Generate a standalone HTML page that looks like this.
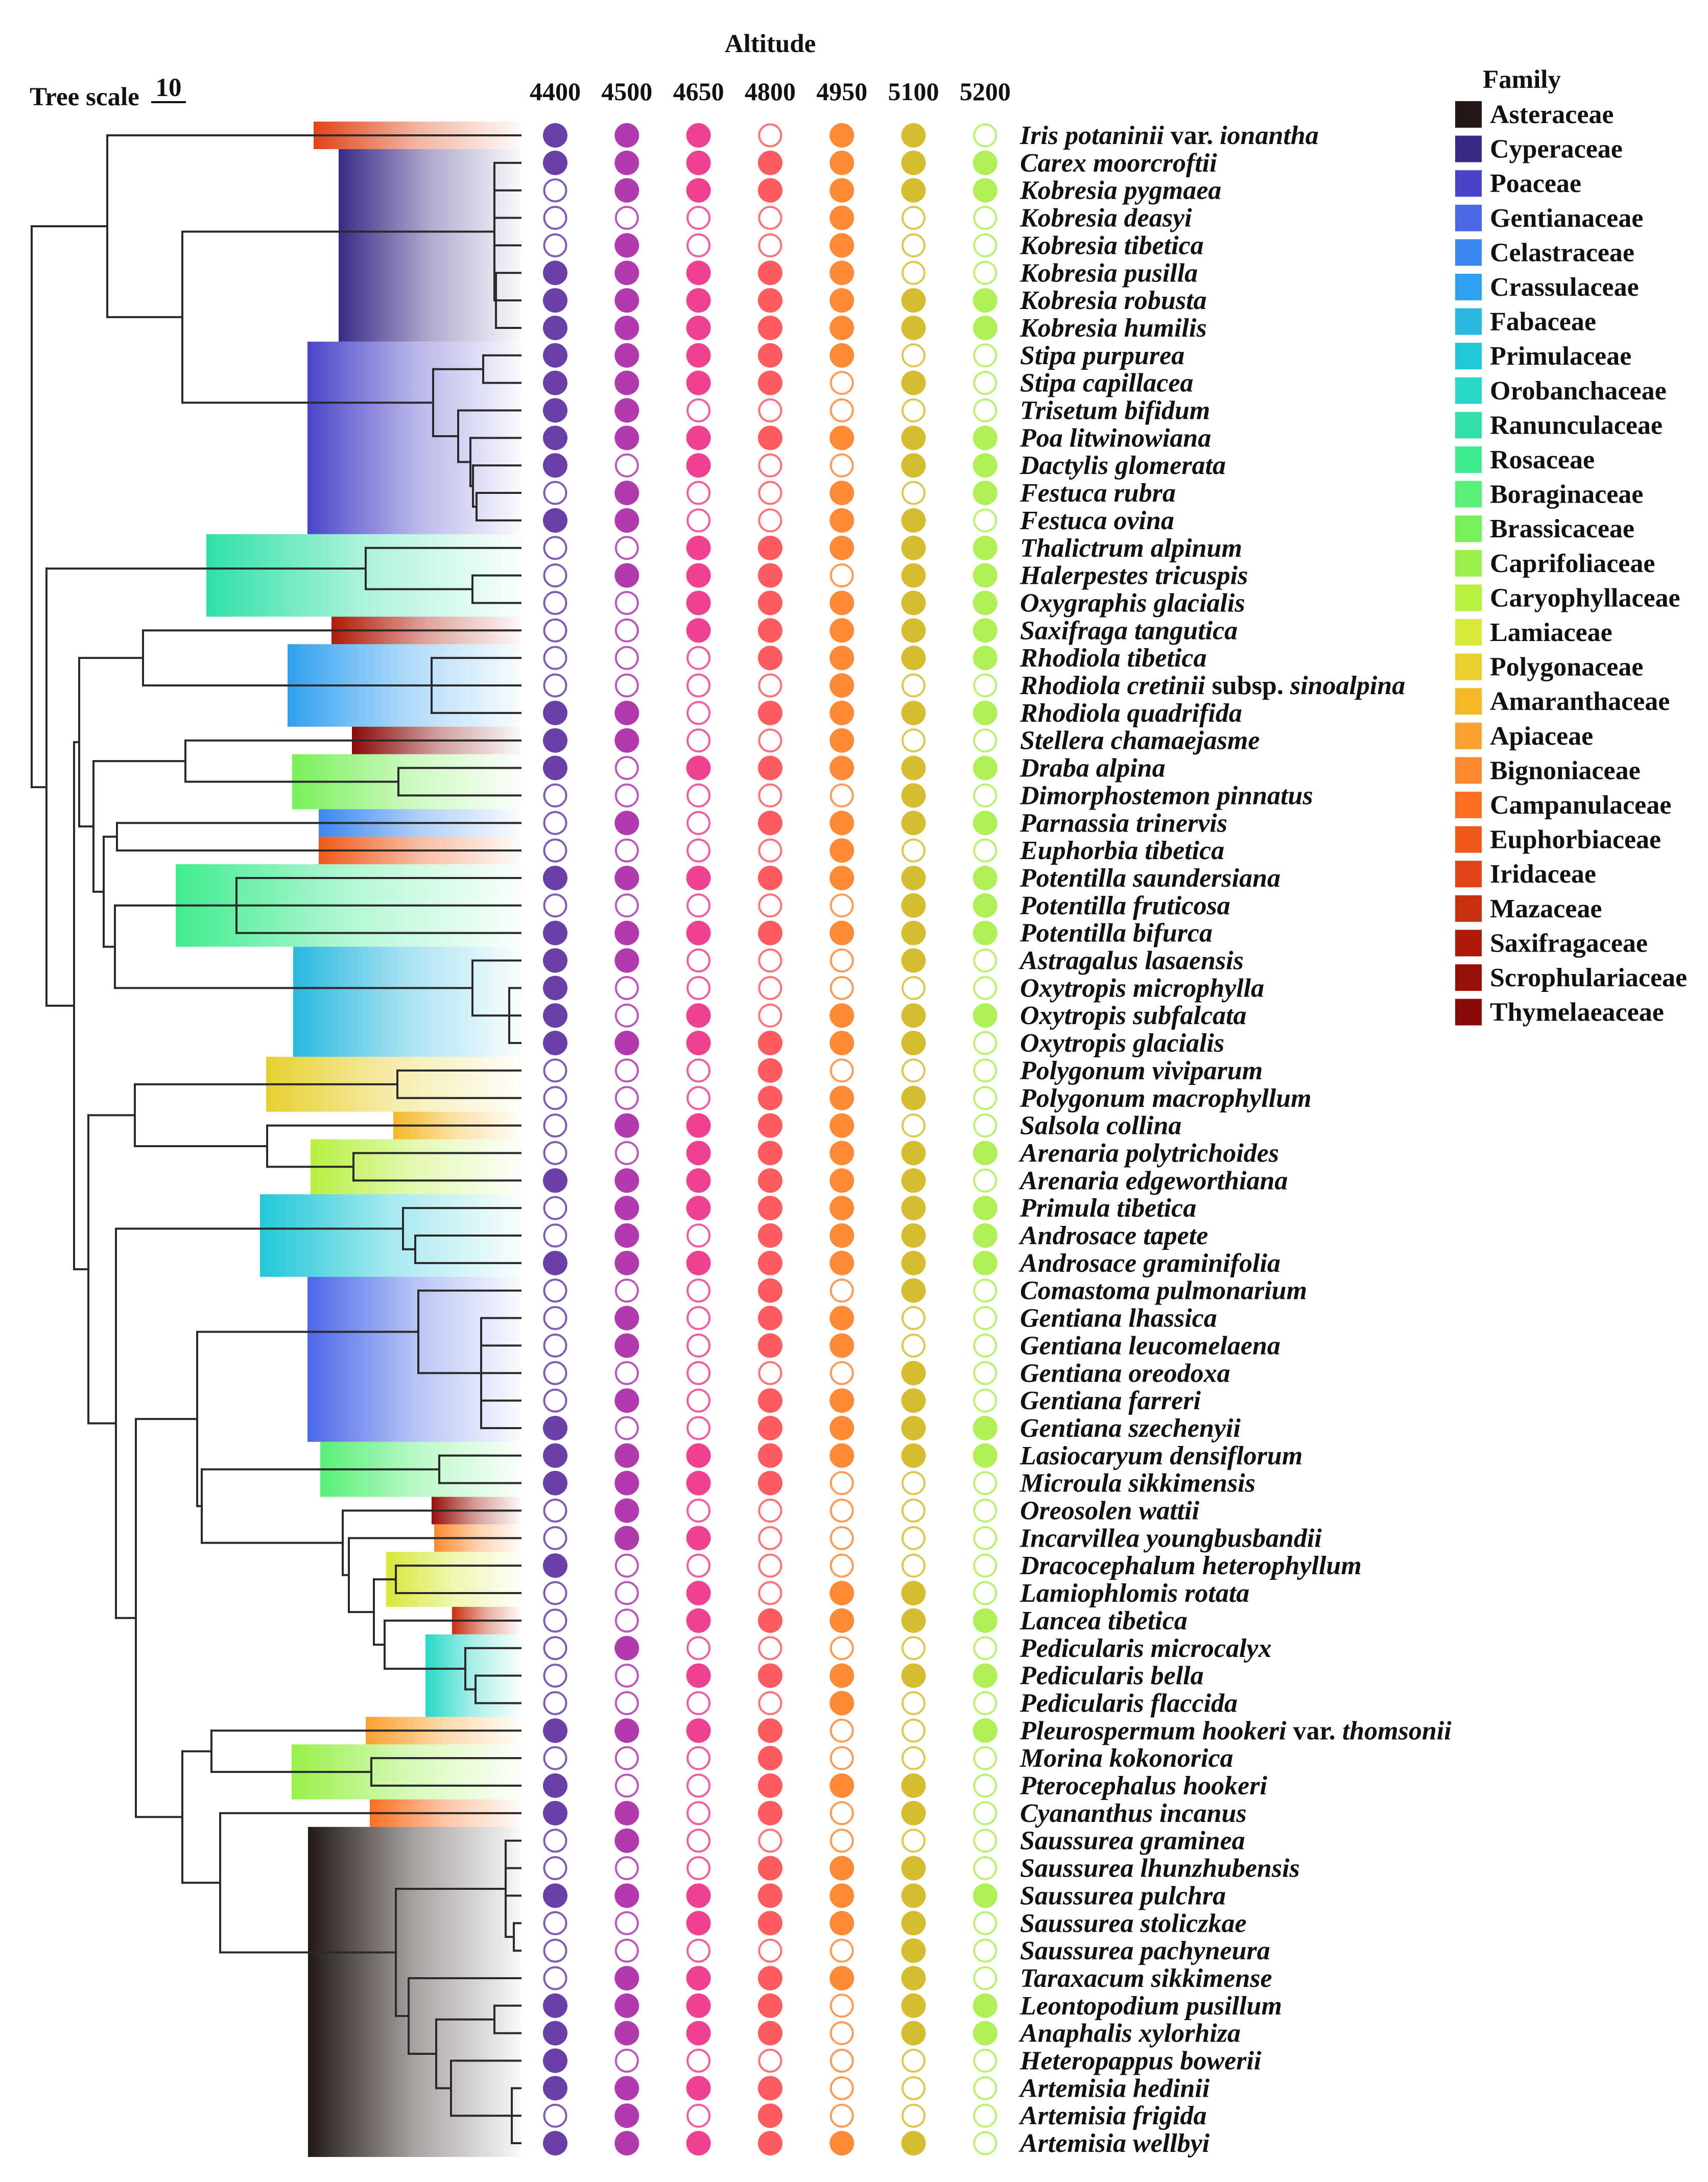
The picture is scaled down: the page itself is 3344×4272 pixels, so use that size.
<!DOCTYPE html>
<html>
<head>
<meta charset="utf-8">
<style>
html,body{margin:0;padding:0;background:#fff;}
svg{display:block;}
text{font-family:"Liberation Serif","Times New Roman",serif;font-weight:bold;fill:#111;}
</style>
</head>
<body>
<svg id="fig" xmlns="http://www.w3.org/2000/svg" width="3344" height="4272" viewBox="0 0 3344 4272">
  <defs id="grads"></defs>
  <g id="clades"></g>
  <g id="tree"></g>
  <g id="dots"></g>
  <g id="labels"></g>
  <g id="legend"></g>
  <text x="1508" y="102" font-size="51" text-anchor="middle">Altitude</text>
  <text x="58" y="206" font-size="51">Tree scale</text>
  <text x="330" y="188" font-size="51" text-anchor="middle">10</text>
  <line x1="296" y1="200" x2="364" y2="200" stroke="#111" stroke-width="4"/>
</svg>
<script>
const altitudes = ["4400","4500","4650","4800","4950","5100","5200"];
const altColors = ["#6a3fa8","#b03aae","#ee4190","#fd5b60","#fe8a38","#d6bd30","#aef056"];
const species = [
"Iris potaninii |var.| ionantha","Carex moorcroftii","Kobresia pygmaea","Kobresia deasyi","Kobresia tibetica","Kobresia pusilla","Kobresia robusta","Kobresia humilis",
"Stipa purpurea","Stipa capillacea","Trisetum bifidum","Poa litwinowiana","Dactylis glomerata","Festuca rubra","Festuca ovina",
"Thalictrum alpinum","Halerpestes tricuspis","Oxygraphis glacialis","Saxifraga tangutica","Rhodiola tibetica","Rhodiola cretinii |subsp.| sinoalpina","Rhodiola quadrifida",
"Stellera chamaejasme","Draba alpina","Dimorphostemon pinnatus","Parnassia trinervis","Euphorbia tibetica","Potentilla saundersiana","Potentilla fruticosa","Potentilla bifurca",
"Astragalus lasaensis","Oxytropis microphylla","Oxytropis subfalcata","Oxytropis glacialis","Polygonum viviparum","Polygonum macrophyllum","Salsola collina",
"Arenaria polytrichoides","Arenaria edgeworthiana","Primula tibetica","Androsace tapete","Androsace graminifolia","Comastoma pulmonarium","Gentiana lhassica",
"Gentiana leucomelaena","Gentiana oreodoxa","Gentiana farreri","Gentiana szechenyii","Lasiocaryum densiflorum","Microula sikkimensis","Oreosolen wattii",
"Incarvillea youngbusbandii","Dracocephalum heterophyllum","Lamiophlomis rotata","Lancea tibetica","Pedicularis microcalyx","Pedicularis bella","Pedicularis flaccida",
"Pleurospermum hookeri |var.| thomsonii","Morina kokonorica","Pterocephalus hookeri","Cyananthus incanus","Saussurea graminea","Saussurea lhunzhubensis",
"Saussurea pulchra","Saussurea stoliczkae","Saussurea pachyneura","Taraxacum sikkimense","Leontopodium pusillum","Anaphalis xylorhiza","Heteropappus bowerii",
"Artemisia hedinii","Artemisia frigida","Artemisia wellbyi"];
const presence = [
"1110110","1111111","0111111","0000100","0100100","1111100","1111111","1111111","1111100","1111010",
"1100000","1111111","1010011","0100101","1100110","0011111","0111011","0011111","0011111","0001111",
"0000100","1101111","1100100","1011111","0000010","0101111","0000100","1111111","0000011","1111111",
"1100010","1000000","1010111","1111110","0001000","0001110","0111100","0011111","1111110","0111111",
"0101111","1111111","0001010","0101100","0101100","0000010","0101110","1001111","1111111","1111000",
"0100000","0110000","1000000","0010110","0011111","0100000","0011111","0000100","1111001","0001000",
"1001110","1101010","0100000","0001110","1111111","0011110","0000010","0111110","1111011","1111011",
"1000000","1111000","0101000","1111110"];
const families = ["Asteraceae","Cyperaceae","Poaceae","Gentianaceae","Celastraceae","Crassulaceae","Fabaceae","Primulaceae","Orobanchaceae","Ranunculaceae","Rosaceae","Boraginaceae","Brassicaceae","Caprifoliaceae","Caryophyllaceae","Lamiaceae","Polygonaceae","Amaranthaceae","Apiaceae","Bignoniaceae","Campanulaceae","Euphorbiaceae","Iridaceae","Mazaceae","Saxifragaceae","Scrophulariaceae","Thymelaeaceae"];
const familyColors = ["#231815","#3b2a85","#4a45c8","#4a68e8","#3a88f0","#30a0f0","#28b8e0","#20c8d8","#28d8c8","#30e0a8","#40ec90","#58f078","#78f058","#98f048","#b8f040","#d8e838","#e8d030","#f5b828","#fca030","#fd8a30","#fb7020","#f05a18","#e04418","#c83010","#b01a08","#981008","#8a0a08"];
const cladeFamily = ["Iridaceae","Cyperaceae","Poaceae","Ranunculaceae","Saxifragaceae","Crassulaceae","Thymelaeaceae","Brassicaceae","Celastraceae","Euphorbiaceae","Rosaceae","Fabaceae","Polygonaceae","Amaranthaceae","Caryophyllaceae","Primulaceae","Gentianaceae","Boraginaceae","Scrophulariaceae","Bignoniaceae","Lamiaceae","Mazaceae","Orobanchaceae","Apiaceae","Caprifoliaceae","Campanulaceae","Asteraceae"];
const cladeFirst = [0,1,8,15,18,19,22,23,25,26,27,30,34,36,37,39,42,48,50,51,52,54,55,58,59,61,62];
const cladeLast  = [0,7,14,17,18,21,22,24,25,26,29,33,35,36,38,41,47,49,50,51,53,54,57,58,60,61,73];
const cladeLeft  = [614,663,602,404,649,563,689,572,624,624,344,574,521,770,608,509,602,627,845,850,756,885,833,716,571,724,603];
const tree = [62,
 [210, 0, [357, [968,1,2,3,4,[971,5,6,7]], [848,[946,8,9],[897,10,[921,11,[926,12,[933,13,14]]]]]]],
 [91, [716,15,[925,16,17]],
   [145,
     [155, [280,18,[845,19,20,21]],
           [183, [363,22,[780,23,24]],
                 [203, [229,25,26], [225,[463,27,28,29],[925,30,[997,31,32,33]]]]]],
     [173, [264,[778,34,35],[523,36,[692,37,38]]],
           [227, [789,39,[813,40,41]],
                 [266, [386,[819,42,[942,43,44,45,46,47]], [395,[860,48,49],[671,50,[683,51,[732,[775,52,53],[753,54,[911,55,[931,56,57]]]]]]]],
                       [357,[414,58,[727,59,60]],[431,61,[775,[990,62,63,64,[1006,65,66]],[800,67,[854,[968,68,69],[883,70,[1002,71,72,73]]]]]]]]]]]]
];

const NS = "http://www.w3.org/2000/svg";
const ROW0 = 265, ROWH = 53.85, TIP = 1019, COL0 = 1087, COLSTEP = 140.3, R = 24;
function rowY(i){ return ROW0 + i*ROWH; }
function colX(j){ return COL0 + j*COLSTEP; }
function mk(tag, attrs, parent){ const e=document.createElementNS(NS,tag); for(const k in attrs) e.setAttribute(k,attrs[k]); parent.appendChild(e); return e; }

const defs = document.getElementById('grads');
const gCl = document.getElementById('clades');
cladeFamily.forEach((f,k)=>{
  const col = familyColors[families.indexOf(f)];
  const g = mk('linearGradient',{id:'gr'+k,x1:'0',y1:'0',x2:'1',y2:'0'},defs);
  mk('stop',{offset:'0','stop-color':col,'stop-opacity':'1'},g);
  mk('stop',{offset:'0.5','stop-color':col,'stop-opacity':'0.4'},g);
  mk('stop',{offset:'1','stop-color':col,'stop-opacity':'0.03'},g);
  const y0 = rowY(cladeFirst[k]) - ROWH/2, y1 = rowY(cladeLast[k]) + ROWH/2;
  const r = mk('rect',{x:cladeLeft[k],y:y0,width:TIP-cladeLeft[k],height:y1-y0,fill:'url(#gr'+k+')'},gCl);
  
  
});

const gT = document.getElementById('tree');
function line(x1,y1,x2,y2,name){
  const l = mk('line',{x1,y1,x2,y2,stroke:'#2a2a2a','stroke-width':4,'stroke-linecap':'square'},gT);
  
  
}
function draw(node){
  if(typeof node === 'number') return rowY(node);
  const x = node[0];
  const ys = [];
  for(let c=1;c<node.length;c++){
    const ch = node[c];
    const y = draw(ch);
    const x2 = (typeof ch === 'number') ? TIP : ch[0];
    line(x,y,x2,y,'tree-branch');
    ys.push(y);
  }
  const top = Math.min(...ys), bot = Math.max(...ys);
  line(x,top,x,bot,'tree-node-connector');
  return (top+bot)/2;
}
draw(tree);

const gD = document.getElementById('dots');
altitudes.forEach((a,j)=>{
  const t = mk('text',{x:colX(j),y:196,'font-size':50,'text-anchor':'middle'},gD);
  t.textContent = a;
  
  
});
presence.forEach((row,i)=>{
  for(let j=0;j<altitudes.length;j++){
    const on = row[j]==='1';
    const c = on ? mk('circle',{cx:colX(j),cy:rowY(i),r:R,fill:altColors[j]},gD)
                 : mk('circle',{cx:colX(j),cy:rowY(i),r:R-2.5,fill:'#fff',stroke:altColors[j],'stroke-width':4,'stroke-opacity':0.85},gD);
    
    
  }
});

const gL = document.getElementById('labels');
species.forEach((s,i)=>{
  const t = mk('text',{x:1997,y:rowY(i)+17,'font-size':52},gL);
  
  
  s.split('|').forEach((part,p)=>{
    const ts = mk('tspan',{'font-style': p%2===0 ? 'italic':'normal'},t);
    ts.textContent = part;
  });
});

const gG = document.getElementById('legend');
const lt = mk('text',{x:2903,y:172,'font-size':51},gG);
lt.textContent = 'Family';


families.forEach((f,k)=>{
  const y = 224 + k*67.6;
  const r = mk('rect',{x:2849,y:y-26,width:52,height:52,fill:familyColors[k]},gG);
  
  
  const t = mk('text',{x:2917,y:y+17,'font-size':52},gG);
  t.textContent = f;
  
  
});
</script>
</body>
</html>
